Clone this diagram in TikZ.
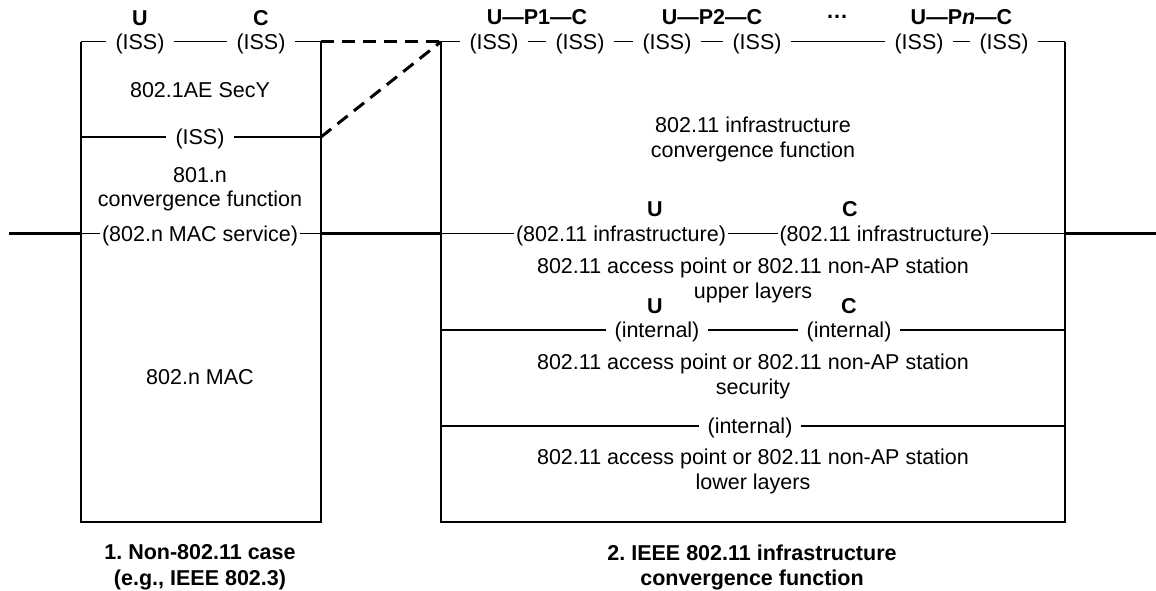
\documentclass[tikz,border=0pt]{standalone}
\usepackage{fontspec}
\setmainfont{Liberation Sans}
\frenchspacing
\begin{document}
\begin{tikzpicture}[x=1pt,y=-1pt,
  every node/.style={inner sep=0pt, font=\fontsize{21.5}{24.5}\selectfont},
  lbl/.style={text height=15.4pt, text depth=0pt},
  iss/.style={lbl, inner xsep=9pt},
  intl/.style={lbl, inner xsep=8pt},
  tight/.style={lbl, inner xsep=1.5pt},
  blk/.style={align=center},
  bld/.style={font=\fontsize{21.5}{24.5}\selectfont\bfseries},
  captext/.style={align=center, font=\fontsize{21.5}{25.5}\selectfont\bfseries},
  boxline/.style={line width=1.8pt},
  thinline/.style={line width=1.3pt},
  bus/.style={line width=3pt},
  dsh/.style={line width=3pt, dash pattern=on 13pt off 8pt},
]
\useasboundingbox (0,0) rectangle (1156,590);

% ---------- coordinates ----------
\coordinate (LTL) at (81,41.7);
\coordinate (LTR) at (321,41.7);
\coordinate (LBL) at (81,521.7);
\coordinate (LBR) at (321,521.7);
\coordinate (LSL) at (81,137);
\coordinate (LSR) at (321,137);
\coordinate (RTL) at (441,41.7);
\coordinate (RTR) at (1065,41.7);
\coordinate (RBL) at (441,521.7);
\coordinate (RBR) at (1065,521.7);
\coordinate (busL) at (9,233.3);
\coordinate (LML) at (81,233.3);
\coordinate (LMR) at (321,233.3);
\coordinate (RML) at (441,233.3);
\coordinate (RMR) at (1065,233.3);
\coordinate (busR) at (1156,233.3);
\coordinate (RAL) at (441,330);
\coordinate (RAR) at (1065,330);
\coordinate (RBLl) at (441,426);
\coordinate (RBRr) at (1065,426);

% ---------- left box ----------
\draw[boxline] (LTL) -- (LBL) -- (LBR) -- (LTR);
\node[bld,lbl] (lU) at (140,18) {U};
\node[bld,lbl] (lC) at (261,18) {C};
\node[iss] (lISS1) at (140,41.7) {(ISS)};
\node[iss] (lISS2) at (261,41.7) {(ISS)};
\draw[thinline] (LTL) -- (lISS1) -- (lISS2) -- (LTR);
\node[lbl] (secy) at (200,90) {802.1AE SecY};
\node[iss] (lISS3) at (200,137) {(ISS)};
\draw[thinline] (LSL) -- (lISS3) -- (LSR);
\node[blk] (conv1) at (200,189.3) {801.n\\convergence function};
\node[tight] (macsvc) at (200,233.3) {(802.n MAC service)};
\node[lbl] (mac) at (200,377) {802.n MAC};
\node[captext] (cap1) at (200,567.3) {1. Non-802.11 case\\(e.g., IEEE 802.3)};

% ---------- main bus ----------
\draw[bus] (busL) -- (LML);
\draw[thinline] (LML) -- (macsvc) -- (LMR);
\draw[bus] (LMR) -- (RML);

% ---------- dashed links ----------
\draw[dsh] (LTR) -- (RTL);
\draw[dsh] (LSR) -- (RTL);

% ---------- right box ----------
\draw[boxline] (RTL) -- (RBL) -- (RBR) -- (RTR);
\node[bld,lbl] (p1) at (537,17) {U—P1—C};
\node[bld,lbl] (p2) at (712,17) {U—P2—C};
\node[font=\fontsize{22}{22}\selectfont\bfseries, anchor=base] (dots) at (837,18) {…};
\node[bld,lbl] (pn) at (961.5,17) {U—P\textit{n}—C};
\node[iss] (rISS1) at (494,41.7) {(ISS)};
\node[iss] (rISS2) at (580,41.7) {(ISS)};
\node[iss] (rISS3) at (667,41.7) {(ISS)};
\node[iss] (rISS4) at (757,41.7) {(ISS)};
\node[iss] (rISS5) at (919,41.7) {(ISS)};
\node[iss] (rISS6) at (1004,41.7) {(ISS)};
\draw[thinline] (RTL) -- (rISS1) -- (rISS2) -- (rISS3) -- (rISS4) -- (rISS5) -- (rISS6) -- (RTR);

\node[blk] (conv2) at (753,139.3) {802.11 infrastructure\\convergence function};

\node[bld,lbl] (rU) at (655,209) {U};
\node[bld,lbl] (rC) at (850,209) {C};
\node[tight] (rInf1) at (621,233.3) {(802.11 infrastructure)};
\node[tight] (rInf2) at (884.5,233.3) {(802.11 infrastructure)};
\draw[thinline] (RML) -- (rInf1) -- (rInf2) -- (RMR);
\draw[bus] (RMR) -- (busR);

\node[blk] (upper) at (753,280.3) {802.11 access point or 802.11 non-AP station\\upper layers};

\node[bld,lbl] (rU2) at (655,306) {U};
\node[bld,lbl] (rC2) at (849,306) {C};
\node[intl] (rInt1) at (657,330) {(internal)};
\node[intl] (rInt2) at (849,330) {(internal)};
\draw[thinline] (RAL) -- (rInt1) -- (rInt2) -- (RAR);

\node[blk] (secu) at (753,376.3) {802.11 access point or 802.11 non-AP station\\security};

\node[intl] (rInt3) at (750,426) {(internal)};
\draw[thinline] (RBLl) -- (rInt3) -- (RBRr);

\node[blk] (lower) at (753,471.3) {802.11 access point or 802.11 non-AP station\\lower layers};

\node[captext] (cap2) at (752,567.3) {2. IEEE 802.11 infrastructure\\convergence function};
\end{tikzpicture}
\end{document}
